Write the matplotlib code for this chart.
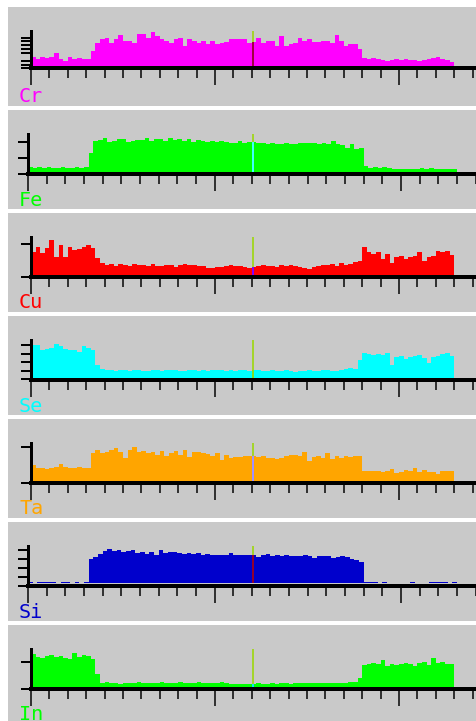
import numpy as np
import matplotlib
matplotlib.use("Agg")
import matplotlib.pyplot as plt

# element names and fill colours, top to bottom
names = ["Cr", "Fe", "Cu", "Se", "Ta", "Si", "In"]
colors = ["#ff00ff", "#00ff00", "#ff0000", "#00ffff", "#ffa500", "#0000cc", "#00ff00"]
# colour of the marker line where it crosses the filled profile
inner_colors = ["#a00040", "#40ffff", "#8000ff", "#80e020", "#a090ff", "#900030", "#00e8ff"]

# counts per channel (92 channels)
cr = [9, 7, 9, 8, 9, 13, 7, 5, 9, 7, 8, 7, 7, 15,
      23, 27, 28, 23, 27, 31, 25, 25, 23, 32, 32, 28, 34, 30, 27, 25,
      23, 27, 28, 20, 27, 25, 23, 25, 22, 25, 22, 23, 24, 27, 27, 27,
      27, 23, 24, 28, 23, 25, 25, 20, 30, 20, 22, 23, 28, 25, 27, 24,
      24, 25, 25, 23, 31, 25, 20, 22, 22, 17, 8,
      7, 8, 7, 6, 5, 6, 7, 6, 7, 6, 6, 5, 6, 7, 8, 9, 7, 6, 4]
fe = [5, 4, 5, 4, 5, 4, 4, 5, 4, 4, 5, 4, 5, 19,
      31, 32, 34, 30, 31, 33, 33, 30, 31, 32, 32, 34, 31, 33, 33, 31,
      34, 32, 33, 31, 33, 30, 32, 31, 30, 31, 30, 31, 30, 29, 29, 31,
      29, 30, 30, 29, 29, 28, 29, 28, 28, 29, 28, 28, 29, 29, 29, 29,
      28, 29, 28, 31, 28, 27, 24, 28, 23, 24,
      6, 4, 5, 4, 5, 4, 3, 3, 3, 3, 3, 3, 4, 3, 4, 3, 3, 3, 3, 3]
cu = [23, 28, 22, 27, 35, 18, 30, 18, 28, 25, 26, 28, 30, 27, 17,
      12, 10, 11, 9, 11, 10, 9, 11, 10, 10, 9, 11, 9, 9, 10, 10, 8, 10,
      11, 10, 10, 9, 9, 7, 7, 8, 8, 9, 10, 9, 9, 8, 7, 8, 9, 10, 9, 9,
      8, 10, 9, 10, 9, 8, 7, 6, 8, 9, 10, 10, 11, 9, 12, 10, 11, 13, 14,
      28, 23, 21, 23, 16, 21, 12, 18, 19, 16, 18, 19, 23, 14, 18, 19,
      24, 23, 24, 20]
se = [33, 33, 28, 29, 30, 34, 32, 29, 28, 28, 26, 32, 30, 28, 13, 9,
      8, 8, 7, 8, 8, 7, 8, 8, 7, 7, 8, 8, 7, 8, 8, 8, 7, 7, 8, 8,
      7, 8, 7, 8, 8, 8, 7, 8, 7, 8, 8, 7, 8, 8, 7, 7, 8, 7, 7, 8,
      7, 6, 7, 7, 8, 7, 7, 8, 8, 7, 7, 8, 9, 10, 9, 18,
      25, 24, 23, 24, 23, 25, 13, 21, 22, 19, 21, 22, 23, 20, 15, 21,
      22, 24, 25, 22]
ta = [16, 13, 13, 12, 13, 14, 17, 14, 13, 13, 14, 13, 13, 28,
      31, 28, 29, 31, 33, 29, 23, 31, 34, 29, 30, 28, 29, 26, 30, 25,
      28, 30, 26, 31, 24, 29, 29, 28, 27, 25, 28, 21, 26, 23, 24, 24,
      25, 25, 25, 24, 25, 23, 23, 22, 23, 25, 26, 26, 25, 29, 20, 24,
      25, 23, 28, 22, 25, 23, 25, 24, 25, 25,
      10, 10, 10, 10, 9, 10, 12, 8, 9, 11, 10, 13, 9, 11, 9, 9, 7, 10, 10, 10]
si = [1, 0, 1, 1, 1, 1, 0, 1, 1, 0, 1, 0, 1, 24,
      26, 29, 32, 34, 32, 33, 31, 32, 33, 30, 31, 29, 31, 28, 33, 30,
      31, 31, 30, 29, 30, 29, 30, 28, 29, 28, 28, 28, 28, 30, 28, 28,
      28, 28, 28, 26, 28, 29, 27, 28, 27, 28, 27, 27, 27, 28, 27, 25,
      27, 27, 27, 25, 26, 27, 26, 24, 23, 21,
      1, 1, 1, 0, 1, 0, 0, 0, 0, 0, 1, 0, 0, 0, 1, 1, 1, 1, 0, 1]
in_ = [33, 30, 29, 31, 32, 30, 31, 29, 28, 34, 30, 32, 31, 28, 13, 4,
       5, 4, 4, 3, 4, 4, 4, 5, 4, 4, 4, 4, 5, 4, 4, 4, 5, 4, 4, 4,
       5, 4, 4, 4, 4, 5, 4, 3, 3, 3, 3, 3, 3, 4, 3, 3, 4, 3, 4, 4,
       3, 4, 4, 4, 4, 4, 4, 4, 4, 4, 4, 4, 4, 5, 5, 9,
       22, 23, 24, 23, 27, 21, 23, 22, 23, 24, 23, 21, 24, 25, 22, 29,
       24, 25, 23, 23]
profiles = [cr, fe, cu, se, ta, si, in_]

# y tick values per element
yticks = [[-2, 1.5, 5, 13.5, 17.5, 21.5, 25, 28.5],
          [-2, 13.5, 29.5],
          [-2, 31],
          [-1.5, 7, 15.5, 24, 32.5],
          [-2, 34],
          [-2.5, 6, 15, 24, 33],
          [-2, 25]]

marker_ch = 48.2  # channel of the vertical marker

W, H = 476, 721
GREY = "#c9c9c9"
px = 0.72  # points per pixel at dpi 100

fig = plt.figure(figsize=(W / 100, H / 100), dpi=100)
fig.patch.set_facecolor("white")

for k, (name, c, ic, vals, yt) in enumerate(zip(names, colors, inner_colors, profiles, yticks)):
    T = 7 + 103 * k
    bg = fig.add_axes([8 / W, 1 - (T + 99) / H, (W - 8) / W, 99 / H])
    bg.set_facecolor(GREY)
    bg.set_xticks([])
    bg.set_yticks([])
    for s in bg.spines.values():
        s.set_visible(False)

    # Fe and Si panels sit a little further left and are slightly wider
    x0, sc = (28, 4.663) if name in ("Fe", "Si") else (31, 4.6)
    base = T + (61.3 if name == "Cr" else 63.5)
    top = T + 24
    ax = fig.add_axes([x0 / W, 1 - base / H, (W - x0) / W, (base - top) / H])
    ax.patch.set_alpha(0)
    ax.set_xlim(0, (W - x0) / sc)
    ax.set_ylim(-2, base - top - 2)

    ax.stairs(vals, np.arange(len(vals) + 1), fill=True, color=c, lw=0)
    ymax = base - top - 2
    ax.vlines(marker_ch, 0, ymax, color="#a4d42c", lw=2 * px, zorder=3)
    ax.vlines(marker_ch, 0, vals[int(marker_ch)], color=ic, lw=2 * px, zorder=4)

    ax.spines["top"].set_visible(False)
    ax.spines["right"].set_visible(False)
    ax.spines["bottom"].set_linewidth(4 * px)
    ax.spines["left"].set_linewidth(3 * px)
    ax.spines["bottom"].set_zorder(5)
    ax.spines["left"].set_zorder(5)

    ax.set_xticks([0, 40, 80])
    ax.set_xticks(np.arange(0, 100, 4), minor=True)
    ax.tick_params(axis="x", which="major", direction="out", length=17 * px,
                   width=1.5 * px, labelbottom=False)
    ax.tick_params(axis="x", which="minor", direction="out", length=9.5 * px,
                   width=1.5 * px)
    ax.set_yticks(yt)
    ax.tick_params(axis="y", direction="out", length=10 * px, width=2 * px,
                   labelleft=False)

    fig.text(19 / W, 1 - (T + 95.5) / H, name, color=c, fontsize=14.5,
             family="DejaVu Sans Mono", va="baseline", ha="left")

plt.savefig("out.png", dpi=100, facecolor="white")
